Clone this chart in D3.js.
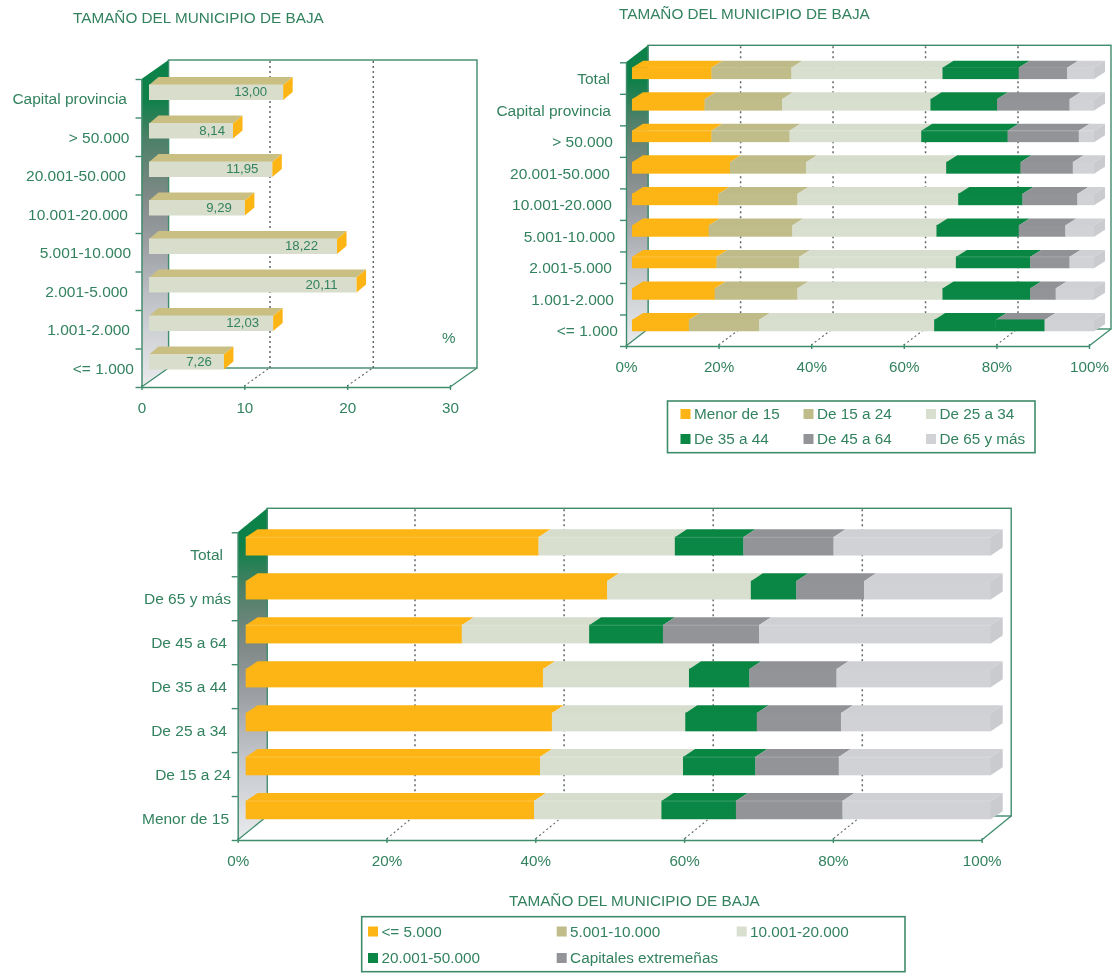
<!DOCTYPE html>
<html><head><meta charset="utf-8">
<script src="https://cdn.jsdelivr.net/npm/d3@7/dist/d3.min.js"></script>
<style>
html,body{margin:0;padding:0;background:#fff}
svg{display:block;filter:blur(0.35px)}
text{font-family:"Liberation Sans",Arial,sans-serif;fill:#33825f}
</style></head><body>
<svg id="c" width="1112" height="973"></svg>
<script>
// ---------- data ----------
const titleText = "TAMAÑO DEL MUNICIPIO DE BAJA";
const sizeCats = ["Capital provincia","> 50.000","20.001-50.000","10.001-20.000","5.001-10.000","2.001-5.000","1.001-2.000","<= 1.000"];
const sizeValues = [13.00,8.14,11.95,9.29,18.22,20.11,12.03,7.26];
const sizeTicks = [0,10,20,30];

const ageCats2 = ["Total",...sizeCats];
const ageKeys = ["Menor de 15","De 15 a 24","De 25 a 34","De 35 a 44","De 45 a 64","De 65 y más"];
const ageShares = [
 [17.2,17.3,32.7,16.5,10.5,5.8],
 [15.7,16.8,32.1,14.4,15.7,5.3],
 [17.2,16.9,28.5,18.7,15.4,3.3],
 [21.2,16.5,30.3,16.1,11.3,4.6],
 [18.7,17.1,34.8,13.9,11.9,3.6],
 [16.6,18.1,31.2,17.8,10.1,6.2],
 [18.3,17.9,33.9,16.1,8.5,5.3],
 [17.9,17.9,31.4,19.0,5.5,8.3],
 [12.3,15.2,37.9,13.3,10.6,10.7]
];
const pctTicks = [0,20,40,60,80,100];

const ageCats3 = ["Total","De 65 y más","De 45 a 64","De 35 a 44","De 25 a 34","De 15 a 24","Menor de 15"];
const townKeys = ["<= 5.000","5.001-10.000","10.001-20.000","20.001-50.000","Capitales extremeñas"];
const townShares = [
 [39.3,18.3,9.2,12.1,21.1],
 [48.5,19.3,6.1,9.1,17.0],
 [29.0,17.1,9.9,12.9,31.1],
 [39.9,19.6,8.1,11.7,20.7],
 [41.1,17.9,9.6,11.3,20.1],
 [39.5,19.2,9.7,11.2,20.4],
 [38.7,17.1,10.0,14.3,19.9]
];

// ---------- styles ----------
const C = {line:"#3f8c6c",orange:"#fdb515",khaki:"#c0bd8a",barTop:"#c9bf82",pale:"#d8dfcf",green:"#0a8744",grey:"#929497",light:"#d0d2d5",dots:"#5f6865"};
const ageColors = [C.orange,C.khaki,C.pale,C.green,C.grey,C.light];
const townColors = [C.orange,C.pale,C.green,C.grey,C.light];
const legend2Colors = ageColors;
const legend3Colors = [C.orange,C.khaki,C.pale,C.green,C.grey];

const svg = d3.select("#c");
const defs = svg.append("defs");
const g = defs.append("linearGradient").attr("id","wall").attr("x1",0).attr("x2",0).attr("y1",0).attr("y2",1);
[[0,"#0a8248"],[.12,"#0f8049"],[.25,"#4f8069"],[.42,"#808a88"],[.58,"#9fa2a6"],[.75,"#c2c5ca"],[1,"#e9ebed"]]
  .forEach(([o,c])=>g.append("stop").attr("offset",o).attr("stop-color",c));

const poly = (sel,pts,fill)=>sel.append("polygon").attr("points",pts.map(p=>p.join(",")).join(" ")).attr("fill",fill);

function frame(p,xs,ticks,fmt,n){
  const L=p.x0,R=p.x1,T=p.top,B=p.bottom,dx=p.depthX,dy=p.depthY;
  const root=svg.append("g");
  // back wall
  root.append("rect").attr("x",L+dx).attr("y",T-dy).attr("width",R-L).attr("height",B-T)
    .attr("fill","#fff").attr("stroke",C.line).attr("stroke-width",1.4);
  // side wall
  poly(root,[[L,T],[L+dx,T-dy],[L+dx,B-dy],[L,B]],"url(#wall)");
  root.append("line").attr("x1",L+dx).attr("x2",L+dx).attr("y1",T-dy).attr("y2",B-dy).attr("stroke",C.line).attr("stroke-width",1.2);
  // grid: back wall and floor
  ticks.slice(1,-1).forEach(t=>{
    const fx=xs(t), bx=p.gridX?p.gridX(t):fx+dx;
    root.append("line").attr("x1",bx).attr("x2",bx).attr("y1",T-dy+1).attr("y2",B-dy)
      .attr("stroke",C.dots).attr("stroke-width",1.5).attr("stroke-dasharray","2,3");
    root.append("line").attr("x1",bx-2).attr("x2",fx).attr("y1",B-dy+1).attr("y2",B-1)
      .attr("stroke",C.dots).attr("stroke-width",1.1).attr("stroke-dasharray","2,2.6");
  });
  // floor edges
  [[L,B,L+dx,B-dy],[R,B,R+dx,B-dy]].forEach(a=>root.append("line").attr("x1",a[0]).attr("y1",a[1]).attr("x2",a[2]).attr("y2",a[3]).attr("stroke",C.line).attr("stroke-width",1.3));
  // axes
  const ax=root.append("g").attr("transform",`translate(0,${B})`)
    .call(d3.axisBottom(xs).tickValues(ticks).tickFormat(fmt).tickSize(4).tickSizeOuter(0));
  ax.selectAll("path,line").attr("stroke",C.line).attr("stroke-width",1.4);
  ax.selectAll("line").attr("y1",-2).attr("y2",3);
  ax.selectAll("text").attr("y",p.tickLabelDy).attr("dy",0).attr("dx",p.tickLabelDx||0).attr("font-size",15.2).attr("font-family",null);
  ax.attr("font-family",null);
  const iy=d3.scaleLinear().domain([0,n]).range([B,T]);
  const ay=root.append("g").attr("transform",`translate(${L},0)`)
    .call(d3.axisLeft(iy).ticks(n).tickFormat("").tickSize(6).tickSizeOuter(0));
  ay.selectAll("path,line").attr("stroke",C.line).attr("stroke-width",1.4);
}

function catLabels(cats,band,ends,dys){
  svg.append("g").selectAll("text").data(cats).join("text")
    .attr("x",(d,i)=>ends[i]).attr("y",(d,i)=>band(d)+band.bandwidth()/2+dys)
    .attr("text-anchor","end").attr("font-size",15.5).text(d=>d);
}
function title(x,y){svg.append("text").attr("x",x).attr("y",y).attr("font-size",15.3).text(titleText);}

function legend(b,keys,colors){
  const l=svg.append("g");
  l.append("rect").attr("x",b.x).attr("y",b.y).attr("width",b.w).attr("height",b.h).attr("fill","#fff").attr("stroke",C.line).attr("stroke-width",1.6);
  keys.forEach((k,i)=>{
    const c=i%3,r=Math.floor(i/3);
    l.append("rect").attr("x",b.cols[c]).attr("y",b.rows[r]).attr("width",10).attr("height",10).attr("fill",colors[i]);
    l.append("text").attr("x",b.cols[c]+13.4).attr("y",b.rows[r]+10).attr("font-size",15.3).text(k);
  });
}

function stacked(p,cats,keys,shares,colors,seamRows,frontOverride){
  const rows=shares.map((s,i)=>{const o={cat:cats[i]};keys.forEach((k,j)=>o[k]=s[j]);return o;});
  const series=d3.stack().keys(keys)(rows);
  const xs=d3.scaleLinear().domain([0,100]).range([p.x0,p.x1]);
  const bx=d3.scaleLinear().domain([0,100]).range([p.barX0,p.barX1]);
  const band=d3.scaleBand().domain(cats).range([p.top,p.bottom]);
  p.gridX=d3.scaleLinear().domain([20,80]).range(p.gridRange);
  frame(p,xs,pctTicks,d=>d+"%",cats.length);
  const G=svg.append("g");
  series.forEach((s,j)=>s.forEach((d,i)=>{
    const a=bx(d[0]),b=bx(d[1]),st=band(cats[i])+p.barOff;
    const bt=st,ft=st+p.barDy,fb=st+p.barH,dx=p.barDx;
    const col=colors[j];
    poly(G,[[a,ft],[a+dx,bt],[b+dx,bt],[b,ft]],d3.color(col).darker(j===0?0:0.03).formatHex());
    const fc=(frontOverride&&frontOverride[0]===i&&frontOverride[1]===j)?colors[frontOverride[2]]:col;
    G.append("rect").attr("x",a).attr("y",ft-.5).attr("width",Math.max(0,b-a)+.3).attr("height",fb-ft+.5).attr("fill",fc);
    if(j===keys.length-1){
      poly(G,[[b,ft],[b+dx,bt],[b+dx,fb-p.barDy],[b,fb]],d3.color(col).darker(.09).formatHex());
    }
  }));
  seamRows.forEach(i=>{
    const y=band(cats[i])+p.barOff+p.barDy;
    G.append("line").attr("x1",p.barX0).attr("x2",p.barX1).attr("y1",y).attr("y2",y).attr("stroke","#fff").attr("stroke-opacity",.2).attr("stroke-width",1);
  });
  return band;
}

// ---------- chart 1 ----------
{
  const p={x0:141.5,x1:450,top:79,bottom:387,depthX:27,depthY:19,tickLabelDy:26};
  const xs=d3.scaleLinear().domain([0,30]).range([p.x0,p.x1]);
  const bar=d3.scaleLinear().domain([0,10]).range([149,252.2]);
  const band=d3.scaleBand().domain(sizeCats).range([p.top,p.bottom]);
  p.gridX=d3.scaleLinear().domain([10,20]).range([270,373.3]);
  title(73,23);
  frame(p,xs,sizeTicks,d=>d,sizeCats.length);
  const valueInset=[16,8,14,13,19,19,14,12];
  const G=svg.append("g");
  sizeValues.forEach((v,i)=>{
    const st=band(sizeCats[i])-2,ft=st+8,fb=st+23,dx=9.5,x0=bar(0),x1=bar(v);
    poly(G,[[x0,ft],[x0+dx,st],[x1+dx,st],[x1,ft]],C.barTop);
    G.append("rect").attr("x",x0).attr("y",ft-.5).attr("width",x1-x0).attr("height",fb-ft+.5).attr("fill","#d8decb");
    poly(G,[[x1,ft],[x1+dx,st],[x1+dx,fb-8],[x1,fb]],C.orange);
    G.append("text").attr("x",x1-valueInset[i]).attr("y",fb-4).attr("text-anchor","end").attr("font-size",13.2).text(d3.format(".2f")(v).replace(".",","));
  });
  catLabels(sizeCats,band,[127,129.5,126,128,131,128,130,134],6);
  svg.append("text").attr("x",442).attr("y",343).attr("font-size",15.2).text("%");
}

// ---------- chart 2 ----------
{
  const p={x0:626,x1:1089,top:62.3,bottom:346,depthX:22,depthY:17,tickLabelDy:26,gridRange:[740.6,1018],
    barX0:632,barX1:1094,barOff:-1.5,barDy:7,barH:18.3,barDx:11};
  title(619,19);
  const band=stacked(p,ageCats2,ageKeys,ageShares,ageColors,[2,6],[8,4,3]);
  catLabels(ageCats2,band,[610,611,613,610,612,615,612,614,618],6);
  legend({x:667.5,y:401,w:367.5,h:51.7,cols:[680.5,803.5,926],rows:[409,434]},ageKeys,legend2Colors);
}

// ---------- chart 3 ----------
{
  const p={x0:237.7,x1:981.7,top:532.3,bottom:840,depthX:29.5,depthY:24,tickLabelDy:26,gridRange:[415,862.3],
    barX0:245.7,barX1:990.7,barOff:-3,barDy:8,barH:26.2,barDx:12};
  const band=stacked(p,ageCats3,townKeys,townShares,townColors,[0,2,5,6]);
  catLabels(ageCats3,band,[223,231,227,227,227,231,229],6);
  title(509,906);
  legend({x:361.7,y:916.7,w:543.3,h:55,cols:[368,556.7,736.7],rows:[926.5,953]},townKeys,legend3Colors);
}
</script>
</body></html>
